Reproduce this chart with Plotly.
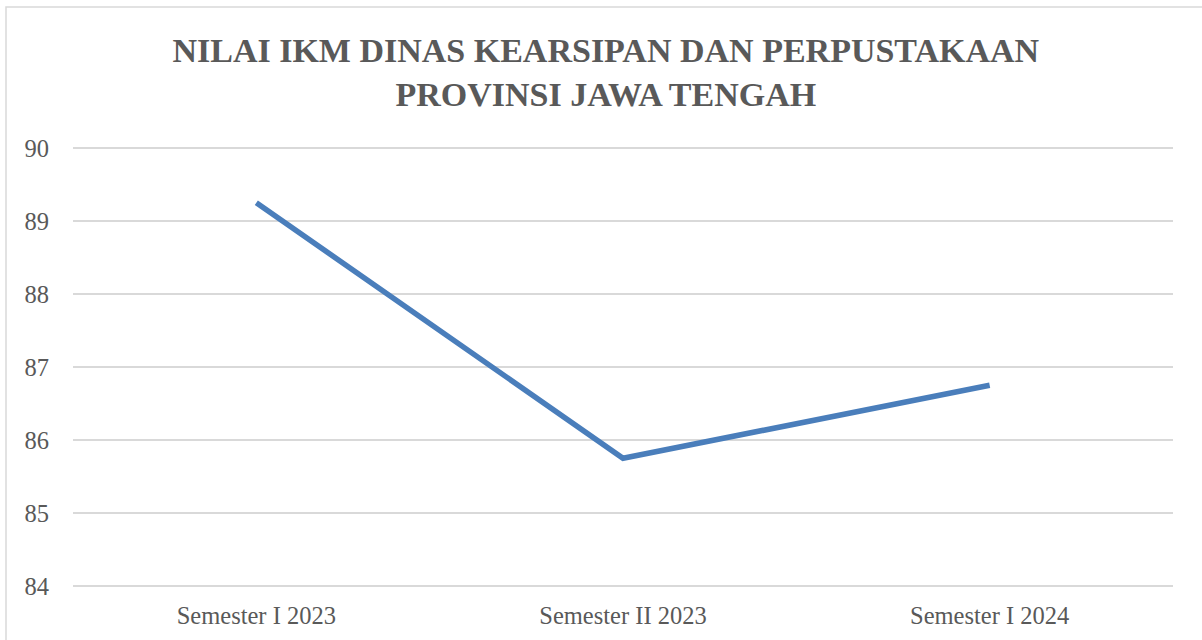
import plotly.graph_objects as go

categories = ["Semester I 2023", "Semester II 2023", "Semester I 2024"]
values = [89.25, 85.75, 86.75]
y_ticks = [84, 85, 86, 87, 88, 89, 90]

W, H = 1202, 640
PAD = 3  # px of padding around the gridline range so edge gridlines render
UNIT = 73  # px per y unit
L, R, T, B = 73, 29, 148 - PAD, 54 - PAD
pw, ph = W - L - R, H - T - B

fig = go.Figure()
fig.add_trace(go.Scatter(
    x=categories, y=values, mode="lines",
    line=dict(color="#4a7ebb", width=5.5),
    hoverinfo="x+y", showlegend=False,
))

fig.update_layout(
    width=W, height=H,
    margin=dict(l=L, r=R, t=T, b=B),
    paper_bgcolor="white", plot_bgcolor="white",
    title=dict(
        text="NILAI IKM DINAS KEARSIPAN DAN PERPUSTAKAAN<br>PROVINSI JAWA TENGAH",
        x=0.504, xref="container", xanchor="center",
        y=1 - 62 / H, yref="container", yanchor="middle",
        font=dict(family="Liberation Serif", size=34, color="#595959", weight="bold"),
    ),
    xaxis=dict(
        type="category", range=[-0.5, 2.5],
        showgrid=False, zeroline=False, showline=False, ticks="",
        tickfont=dict(family="Liberation Serif", size=24.5, color="#595959"),
        ticklabelstandoff=12 - PAD,
    ),
    yaxis=dict(
        range=[y_ticks[0] - PAD / UNIT, y_ticks[-1] + PAD / UNIT], tickvals=y_ticks,
        showgrid=True, gridcolor="#d9d9d9", gridwidth=1.5,
        zeroline=False, showline=False, ticks="",
        tickfont=dict(family="Liberation Serif", size=24.5, color="#595959"),
        ticklabelstandoff=23,
    ),
)

# outer chart-area border (partially visible: top and left)
fig.add_shape(
    type="rect", xref="paper", yref="paper",
    x0=(6 - L) / pw, x1=(W + 20 - L) / pw,
    y0=-(H + 20 - (T + ph)) / ph, y1=1 + (T - 7) / ph,
    line=dict(color="#d9d9d9", width=1.5), fillcolor="rgba(0,0,0,0)", layer="below",
)

fig.write_html(
    "out.html",
    config={"displayModeBar": False},
    post_script="document.body.style.margin='0';document.body.style.overflow='hidden';",
)
